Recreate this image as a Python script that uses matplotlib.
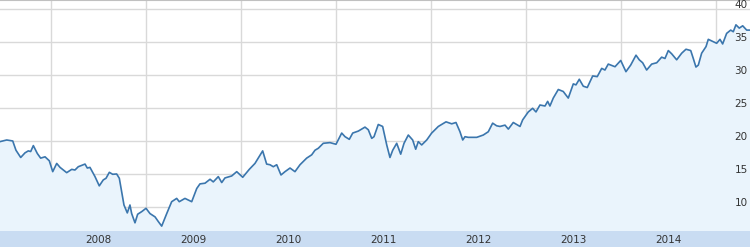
import matplotlib
matplotlib.use("Agg")
import matplotlib.pyplot as plt
import matplotlib.transforms as mtransforms

# decimal years
dates = [
    2007.463, 2007.534, 2007.597, 2007.631, 2007.681, 2007.726, 2007.761, 2007.786,
    2007.814, 2007.856, 2007.891, 2007.937, 2007.982, 2008.018, 2008.060, 2008.095,
    2008.165, 2008.218, 2008.252, 2008.287, 2008.358, 2008.382, 2008.410, 2008.463,
    2008.508, 2008.550, 2008.579, 2008.614, 2008.649, 2008.691, 2008.719, 2008.768,
    2008.803, 2008.831, 2008.849, 2008.884, 2008.912, 2008.955, 2009.000, 2009.042,
    2009.095, 2009.129, 2009.165, 2009.218, 2009.270, 2009.323, 2009.350, 2009.410,
    2009.481, 2009.534, 2009.568, 2009.621, 2009.674, 2009.708, 2009.761, 2009.797,
    2009.831, 2009.902, 2009.955, 2010.018, 2010.087, 2010.147, 2010.228, 2010.270,
    2010.305, 2010.340, 2010.376, 2010.421, 2010.463, 2010.516, 2010.568, 2010.621,
    2010.691, 2010.744, 2010.779, 2010.814, 2010.866, 2010.937, 2011.000, 2011.060,
    2011.095, 2011.140, 2011.176, 2011.235, 2011.305, 2011.340, 2011.376, 2011.400,
    2011.445, 2011.491, 2011.534, 2011.568, 2011.597, 2011.639, 2011.681, 2011.716,
    2011.761, 2011.807, 2011.839, 2011.866, 2011.902, 2011.955, 2012.007, 2012.077,
    2012.158, 2012.218, 2012.263, 2012.305, 2012.334, 2012.358, 2012.392, 2012.481,
    2012.550, 2012.603, 2012.649, 2012.691, 2012.726, 2012.779, 2012.814, 2012.866,
    2012.937, 2012.965, 2013.024, 2013.070, 2013.105, 2013.147, 2013.200, 2013.228,
    2013.252, 2013.287, 2013.340, 2013.392, 2013.445, 2013.498, 2013.526, 2013.561,
    2013.603, 2013.645, 2013.702, 2013.750, 2013.797, 2013.831, 2013.866, 2013.937,
    2013.997, 2014.052, 2014.102, 2014.158, 2014.192, 2014.228, 2014.270, 2014.323,
    2014.376, 2014.428, 2014.463, 2014.498, 2014.534, 2014.586, 2014.639, 2014.684,
    2014.734, 2014.761, 2014.789, 2014.814, 2014.849, 2014.895, 2014.919, 2014.971,
    2015.007, 2015.042, 2015.070, 2015.112, 2015.155, 2015.182, 2015.210, 2015.245,
    2015.281, 2015.323, 2015.358,
]

prices = [
    19.9, 20.15, 20.0, 18.6, 17.5, 18.2, 18.5, 18.4,
    19.3, 18.1, 17.4, 17.6, 17.0, 15.35, 16.6, 16.0,
    15.2, 15.7, 15.6, 16.1, 16.5, 15.9, 16.0, 14.6,
    13.2, 14.1, 14.35, 15.25, 14.95, 15.0, 14.35, 10.3,
    9.1, 10.3, 9.0, 7.6, 8.9, 9.3, 9.8, 9.0,
    8.5, 7.8, 7.1, 9.0, 10.8, 11.3, 10.8, 11.3,
    10.8, 12.8, 13.5, 13.6, 14.2, 13.8, 14.6, 13.7,
    14.4, 14.7, 15.35, 14.5, 15.7, 16.6, 18.5, 16.5,
    16.4, 16.1, 16.4, 14.85, 15.35, 15.9, 15.35, 16.4,
    17.4, 17.9, 18.6, 18.9, 19.65, 19.75, 19.5, 21.2,
    20.65, 20.25, 21.2, 21.5, 22.1, 21.7, 20.4, 20.65,
    22.5, 22.2, 19.4, 17.5, 18.6, 19.65, 18.0, 19.65,
    20.9, 20.15, 18.75, 19.9, 19.4, 20.15, 21.2, 22.2,
    22.9, 22.6, 22.8, 21.4, 20.15, 20.65, 20.55, 20.55,
    20.9, 21.4, 22.7, 22.3, 22.2, 22.4, 21.8, 22.8,
    22.2, 23.2, 24.4, 24.95, 24.4, 25.45, 25.3, 26.0,
    25.3, 26.5, 27.8, 27.5, 26.5, 28.65, 28.5, 29.35,
    28.3, 28.1, 29.85, 29.75, 31.0, 30.75, 31.65, 31.25,
    32.2, 30.5, 31.5, 33.0, 32.3, 31.85, 30.75, 31.65,
    31.85, 32.7, 32.5, 33.7, 33.2, 32.3, 33.3, 33.9,
    33.7, 32.5, 31.2, 31.5, 33.3, 34.3, 35.4, 35.05,
    34.8, 35.4, 34.7, 36.3, 36.8, 36.55, 37.6, 37.1,
    37.45, 36.8, 36.8,
]

years = [2008, 2009, 2010, 2011, 2012, 2013, 2014]
year_lines = [2008, 2009, 2010, 2011, 2012, 2013, 2014, 2015]
y_ticks = [10, 15, 20, 25, 30, 35, 40]

W, H = 750, 247
band = 16

fig = plt.figure(figsize=(W / 100, H / 100), dpi=100)
ax = fig.add_axes([0, band / H, 1, (H - band) / H])
bx = fig.add_axes([0, 0, 1, band / H], sharex=ax)

ax.set_xlim(dates[0], dates[-1])
ax.set_ylim(6.36, 41.36)

grid_col = "#d9d9d9"
for v in y_ticks:
    ax.axhline(v, color=grid_col, lw=1, zorder=1)
for yr in year_lines:
    ax.axvline(yr, color=grid_col, lw=1, zorder=1)

ax.fill_between(dates, prices, 0, color="#eaf4fc", zorder=2, lw=0)
ax.plot(dates, prices, color="#3b76ad", lw=1.2, zorder=3)

# y labels sit just above their grid line at the right edge
trans = mtransforms.blended_transform_factory(ax.transAxes, ax.transData)
for v in y_ticks:
    ax.text(0.997, v + 0.2, str(v), transform=trans, ha="right", va="baseline",
            fontsize=7.5, color="#333333", zorder=4)

ax.set_xticks(year_lines)
ax.tick_params(axis="x", direction="in", length=3, color="#888888",
               labelbottom=False)
ax.set_yticks([])
for side in ["left", "right", "bottom"]:
    ax.spines[side].set_visible(False)
ax.spines["top"].set_color("#c0c0c0")

bx.set_facecolor("#c9dcf2")
for yr in years:
    bx.text(yr + 0.5, 0.42, str(yr), ha="center", va="center",
            fontsize=7.5, color="#333333")
bx.set_xticks([])
bx.set_yticks([])
for s in bx.spines.values():
    s.set_visible(False)

fig.savefig("out.png", dpi=100)
